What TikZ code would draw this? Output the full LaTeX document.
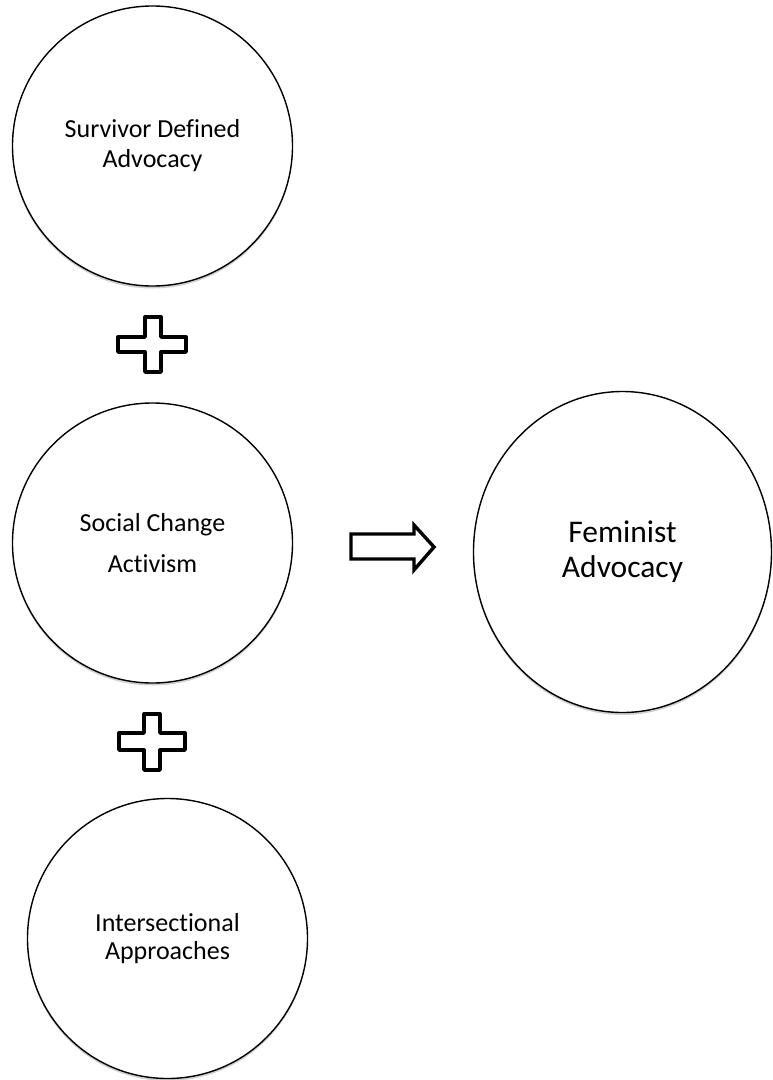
\documentclass[tikz,border=0pt]{standalone}
\usepackage{fontspec}
\setmainfont{Carlito}[Ligatures={NoCommon,NoContextual}]
\usetikzlibrary{shapes.geometric,shadows}
\begin{document}
\begin{tikzpicture}[x=1pt,y=-1pt,
  bubble/.style={circle,draw=black,line width=1.4pt,fill=white,inner sep=0pt,align=center,
    drop shadow={shadow xshift=0pt,shadow yshift=-2.5pt,opacity=0.18,fill=black}},
  plusmark/.style={draw=black,line width=3.4pt,line join=round,fill=white},
  blockarrow/.style={draw=black,line width=3.4pt,line join=miter,fill=white},
  smalltext/.style={font=\fontsize{26}{30}\selectfont}]
\useasboundingbox (0,0) rectangle (772,1080);
\fill[white] (0,0) rectangle (772,1080);

\node[bubble,smalltext,minimum size=280pt] (sda) at (152.5,146)
  {Survivor Defined\\Advocacy};
\node[bubble,font=\fontsize{26}{41}\selectfont,minimum size=280pt] (sca) at (152.5,543)
  {Social Change\\Activism};
\node[bubble,font=\fontsize{26}{28}\selectfont,minimum size=280pt] (ia) at (167.5,938.5)
  {Intersectional\\Approaches};
\node[ellipse,draw=black,line width=1.4pt,fill=white,inner sep=0pt,align=center,
  drop shadow={shadow xshift=0pt,shadow yshift=-2.5pt,opacity=0.18,fill=black},
  minimum width=298pt,minimum height=321pt,font=\fontsize{31.5}{35}\selectfont] (fa) at (622.5,552)
  {Feminist\\Advocacy};

% plus signs
\coordinate (p1) at (153,344.5);
\draw[plusmark] ([shift={(-8,-27.5)}]p1) -- ([shift={(8,-27.5)}]p1) -- ([shift={(8,-7.5)}]p1)
  -- ([shift={(33,-7.5)}]p1) -- ([shift={(33,7.5)}]p1) -- ([shift={(8,7.5)}]p1)
  -- ([shift={(8,27.5)}]p1) -- ([shift={(-8,27.5)}]p1) -- ([shift={(-8,7.5)}]p1)
  -- ([shift={(-35,7.5)}]p1) -- ([shift={(-35,-7.5)}]p1) -- ([shift={(-8,-7.5)}]p1) -- cycle;
\coordinate (p2) at (152,742);
\draw[plusmark] ([shift={(-8,-28)}]p2) -- ([shift={(8,-28)}]p2) -- ([shift={(8,-9)}]p2)
  -- ([shift={(33,-9)}]p2) -- ([shift={(33,8)}]p2) -- ([shift={(8,8)}]p2)
  -- ([shift={(8,28)}]p2) -- ([shift={(-8,28)}]p2) -- ([shift={(-8,8)}]p2)
  -- ([shift={(-33,8)}]p2) -- ([shift={(-33,-9)}]p2) -- ([shift={(-8,-9)}]p2) -- cycle;

% block arrow
\coordinate (ar) at (351,547);
\draw[blockarrow] ([shift={(0,-13)}]ar) -- ([shift={(63,-13)}]ar) -- ([shift={(63,-22)}]ar)
  -- ([shift={(83,0)}]ar) -- ([shift={(63,23)}]ar) -- ([shift={(63,12)}]ar)
  -- ([shift={(0,12)}]ar) -- cycle;
\end{tikzpicture}
\end{document}
